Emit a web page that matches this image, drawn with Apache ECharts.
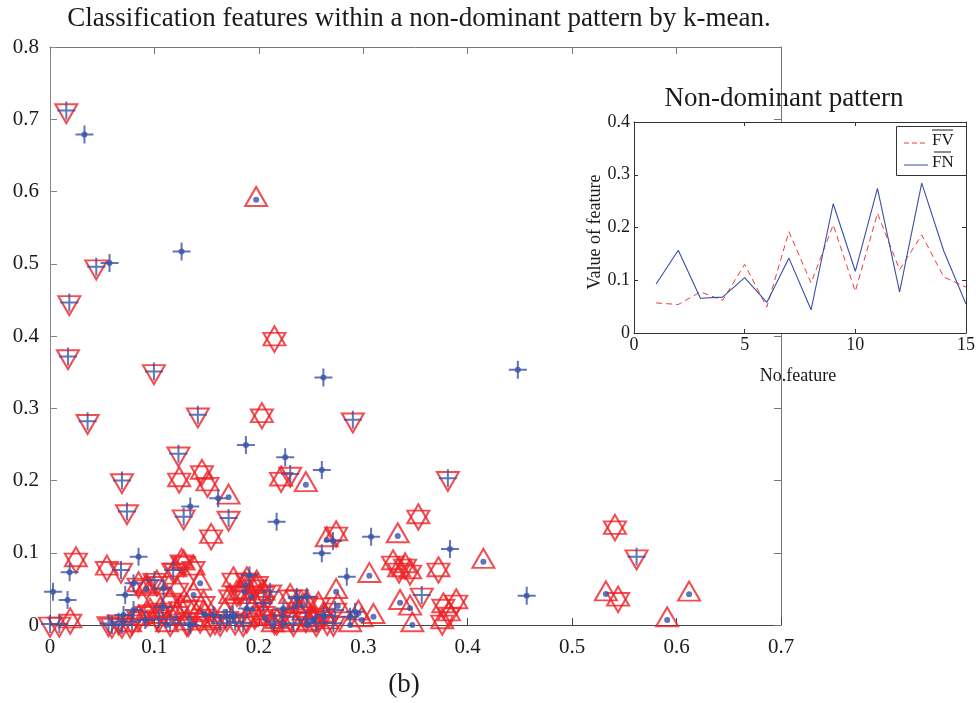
<!DOCTYPE html>
<html>
<head>
<meta charset="utf-8">
<script src="https://cdn.jsdelivr.net/npm/echarts@6/dist/echarts.min.js"></script>
<style>
html,body{margin:0;padding:0;background:#fff;}
#chart{width:978px;height:703px;}
</style>
</head>
<body>
<div id="chart"></div>
<script>
// ---------- DATA ----------
// Main scatter: combined marker groups [x, y]
// red down-triangle + blue plus
var vPlus = [
 [0.0156,0.712],[0.0443,0.496],[0.0185,0.4465],[0.0172,0.3716],[0.0995,0.351],
 [0.036,0.282],[0.1416,0.291],[0.290,0.284],[0.123,0.237],[0.0689,0.200],
 [0.230,0.209],[0.0737,0.157],[0.128,0.150],[0.171,0.148],[0.381,0.203],
 [0.5617,0.0946],[0.068,0.076],[0.118,0.076],[0.356,0.0416],[0.000,0.0014],
 [0.0089,0.0014],[0.056,0.002],[0.0657,0.0046],[0.0785,0.0046],[0.0593,0.000],
 [0.0689,0.000],[0.1151,0.0023],[0.1326,0.0023],[0.163,0.0023],[0.1694,0.0093],
 [0.1773,0.0046],[0.2044,0.030],[0.2108,0.046],[0.2363,0.039],[0.2331,0.0023],
 [0.2714,0.0023],[0.273,0.0208],[0.100,0.062],[0.215,0.005],[0.222,0.012],
 [0.245,0.008],[0.255,0.002],[0.262,0.014],[0.104,0.008],[0.185,0.002]
];
// red up+down triangles (hexagram)
var hexagram = [
 [0.2149,0.3957],[0.2029,0.2895],[0.1237,0.2008],[0.1455,0.211],[0.1508,0.195],
 [0.2213,0.2018],[0.3527,0.1496],[0.1543,0.1223],[0.274,0.126],[0.3285,0.0859],
 [0.3343,0.0762],[0.340,0.0817],[0.3448,0.0734],[0.372,0.0762],[0.541,0.1348],
 [0.544,0.0355],[0.3767,0.0263],[0.389,0.0319],[0.382,0.0152],[0.3756,0.0042],
 [0.0248,0.090],[0.0194,0.0055],[0.0545,0.0785],[0.126,0.0877],[0.1374,0.0785],
 [0.120,0.076],[0.0927,0.053],[0.1023,0.0577],[0.1215,0.0485],[0.1151,0.0346],
 [0.131,0.0254],[0.147,0.030],[0.0848,0.0554],[0.1757,0.0623],[0.1885,0.0623],
 [0.1965,0.053],[0.201,0.039],[0.182,0.044],[0.1725,0.039],[0.198,0.0577],
 [0.2044,0.0439],[0.179,0.0439],[0.230,0.039],[0.2459,0.030],[0.257,0.0277],
 [0.0927,0.0162],[0.1023,0.0115],[0.1215,0.0162],[0.1438,0.0069],[0.1885,0.0069],
 [0.2044,0.0162],[0.2172,0.0046],[0.230,0.0093],[0.2427,0.0162],[0.0768,0.000],
 [0.0848,0.0093],[0.096,0.0185],[0.1056,0.0208],[0.1247,0.023],[0.131,0.0023],
 [0.1534,0.0023],[0.128,0.0855],[0.158,0.005],[0.196,0.012],[0.2655,0.004]
];
// red up-triangle + blue dot
var triDot = [
 [0.1974,0.5886],[0.245,0.194],[0.171,0.1767],[0.265,0.1177],[0.3058,0.0683],
 [0.333,0.1233],[0.415,0.0877],[0.5323,0.0429],[0.612,0.0425],[0.591,0.0069],
 [0.3352,0.0309],[0.3448,0.0231],[0.347,0.000],[0.274,0.0461],[0.2756,0.0263],
 [0.1438,0.0577],[0.1374,0.0416],[0.0922,0.050],[0.112,0.000],[0.147,0.0162],
 [0.206,0.0093],[0.2134,0.000],[0.2235,0.000],[0.2347,0.0254],[0.2475,0.0023],
 [0.2522,0.0069],[0.2618,0.0138],[0.2874,0.000],[0.2954,0.0162],[0.2985,0.0069],
 [0.3097,0.0115],[0.187,0.0554],[0.186,0.046],[0.1926,0.039],[0.242,0.0263],
 [0.253,0.0079],[0.2465,0.000],[0.1199,0.0093],[0.1486,0.0138],[0.1678,0.0185],
 [0.1933,0.0208],[0.2626,0.0115]
];
// blue plus + blue dot
var plusDot = [
 [0.033,0.679],[0.126,0.517],[0.057,0.501],[0.2618,0.3425],[0.1876,0.249],
 [0.2252,0.2323],[0.2603,0.2147],[0.448,0.3532],[0.161,0.1755],[0.1343,0.1639],
 [0.217,0.143],[0.2603,0.0993],[0.271,0.1163],[0.3075,0.1223],[0.383,0.1053],
 [0.4565,0.0406],[0.2842,0.0669],[0.0188,0.073],[0.0029,0.0461],[0.0168,0.0346],
 [0.0848,0.0946],[0.080,0.0578],[0.072,0.0416],[0.191,0.069],[0.1087,0.0508],
 [0.0704,0.0138],[0.080,0.0208],[0.0912,0.0069],[0.108,0.0245],[0.1343,0.000],
 [0.1566,0.0138],[0.1725,0.0115],[0.1885,0.023],[0.2235,0.023],[0.2363,0.037],
 [0.2874,0.0115],[0.2922,0.0185],[0.2459,0.039],[0.1752,0.0138]
];
// Inset: feature values
var featureNo = [1,2,3,4,5,6,7,8,9,10,11,12,13,14,15];
var fvValues = [0.057,0.054,0.078,0.062,0.130,0.049,0.192,0.095,0.205,0.079,0.227,0.120,0.186,0.106,0.087];
var fnValues = [0.093,0.157,0.066,0.068,0.105,0.058,0.142,0.044,0.245,0.117,0.274,0.078,0.284,0.155,0.055];
var mainXTicks = [0,0.1,0.2,0.3,0.4,0.5,0.6,0.7];
var mainYTicks = [0,0.1,0.2,0.3,0.4,0.5,0.6,0.7,0.8];

// ---------- STYLE ----------
var RED = '#ec2227', BLUE = '#3a52a5';
var SERIF = '"Liberation Serif","Times New Roman",serif';
var upTri = 'path://M10,0L20,17.32L0,17.32Z';
var downTri = 'path://M0,0L20,0L10,17.32Z';
var plusSym = 'path://M0,9L18,9M9,0L9,18';

function pairs(xs, ys){ return xs.map(function(x,i){return [x, ys[i]];}); }

function axisCommon(color, len){
  return {
    axisLine:{show:true, onZero:false, lineStyle:{color:color, width:1}},
    axisTick:{show:true, inside:true, length:len, lineStyle:{color:color, width:1}},
    splitLine:{show:false}
  };
}
function mk(base, extra){ var o = {}; for (var k in base) o[k]=base[k]; for (var k2 in extra) o[k2]=extra[k2]; return o; }

var mainLabel = {fontFamily:SERIF, fontSize:21, color:'#1a1a1a'};
var insetLabel = {fontFamily:SERIF, fontSize:18, color:'#1a1a1a'};

var chart = echarts.init(document.getElementById('chart'), null, {renderer:'canvas'});
chart.setOption({
  animation:false,
  backgroundColor:'#fff',
  grid:[
    {left:50, top:47, width:731, height:578, show:false},
    {left:634, top:122, width:333, height:211, show:true, backgroundColor:'#fff', borderWidth:0, z:5}
  ],
  xAxis:[
    mk(axisCommon('#444',7), {gridIndex:0, type:'value', position:'bottom', min:0, max:0.7, interval:0.1,
      axisLabel:mk(mainLabel,{margin:12, formatter:function(v){return String(+v.toFixed(1));}})}),
    mk(axisCommon('#777',7), {gridIndex:0, type:'value', position:'top', min:0, max:0.7, interval:0.1, axisLabel:{show:false}}),
    mk(axisCommon('#333',4), {gridIndex:1, type:'value', position:'bottom', min:0, max:15, interval:5, z:6,
      axisLabel:mk(insetLabel,{margin:3})}),
    mk(axisCommon('#333',4), {gridIndex:1, type:'value', position:'top', min:0, max:15, interval:5, z:6, axisLabel:{show:false}})
  ],
  yAxis:[
    mk(axisCommon('#888',7), {gridIndex:0, type:'value', position:'left', min:0, max:0.8, interval:0.1,
      axisLabel:mk(mainLabel,{margin:11, formatter:function(v){return String(+v.toFixed(1));}})}),
    mk(axisCommon('#777',7), {gridIndex:0, type:'value', position:'right', min:0, max:0.8, interval:0.1, axisLabel:{show:false}}),
    mk(axisCommon('#333',4), {gridIndex:1, type:'value', position:'left', min:0, max:0.4, interval:0.1, z:6,
      axisLabel:mk(insetLabel,{margin:4, formatter:function(v){return String(+v.toFixed(1));}})}),
    mk(axisCommon('#333',4), {gridIndex:1, type:'value', position:'right', min:0, max:0.4, interval:0.1, z:6, axisLabel:{show:false}})
  ],
  series:[
    {type:'scatter', xAxisIndex:0, yAxisIndex:0, clip:false, silent:true,
     data: hexagram.concat(triDot), symbol:upTri, symbolSize:[22,19], symbolOffset:[0,-3.2],
     itemStyle:{color:'rgba(0,0,0,0)', borderColor:RED, borderWidth:2}},
    {type:'scatter', xAxisIndex:0, yAxisIndex:0, clip:false, silent:true,
     data: vPlus.concat(hexagram), symbol:downTri, symbolSize:[22,19], symbolOffset:[0,3.2],
     itemStyle:{color:'rgba(0,0,0,0)', borderColor:RED, borderWidth:2}},
    {type:'scatter', xAxisIndex:0, yAxisIndex:0, clip:false, silent:true,
     data: vPlus.concat(plusDot), symbol:plusSym, symbolSize:18,
     itemStyle:{color:'rgba(0,0,0,0)', borderColor:BLUE, borderWidth:2}},
    {type:'scatter', xAxisIndex:0, yAxisIndex:0, clip:false, silent:true,
     data: triDot.concat(plusDot), symbol:'circle', symbolSize:6,
     itemStyle:{color:BLUE}},
    {type:'line', xAxisIndex:2, yAxisIndex:2, z:7, silent:true, symbol:'none',
     data: pairs(featureNo, fvValues), lineStyle:{color:'#f03a3a', width:1, type:[6,4]}},
    {type:'line', xAxisIndex:2, yAxisIndex:2, z:7, silent:true, symbol:'none',
     data: pairs(featureNo, fnValues), lineStyle:{color:'#3a4fa8', width:1.1}}
  ],
  graphic:[
    {type:'text', z:20, style:{x:419, y:19, text:'Classification features within a non-dominant pattern by k-mean.',
      font:'27px '+SERIF, fill:'#1a1a1a', textAlign:'center', textVerticalAlign:'middle'}},
    {type:'text', z:20, style:{x:404, y:685, text:'(b)', font:'27px '+SERIF, fill:'#1a1a1a', textAlign:'center', textVerticalAlign:'middle'}},
    {type:'text', z:20, style:{x:784, y:99, text:'Non-dominant pattern', font:'27px '+SERIF, fill:'#1a1a1a', textAlign:'center', textVerticalAlign:'middle'}},
    {type:'text', z:20, style:{x:798, y:376, text:'No.feature', font:'18px '+SERIF, fill:'#1a1a1a', textAlign:'center', textVerticalAlign:'middle'}},
    {type:'text', z:20, x:595, y:232, rotation:Math.PI/2, style:{x:0, y:0, text:'Value of feature', font:'18px '+SERIF, fill:'#1a1a1a', textAlign:'center', textVerticalAlign:'middle'}},
    // legend
    {type:'rect', z:20, shape:{x:896.5, y:126.5, width:70, height:49}, style:{fill:'#fff', stroke:'#333', lineWidth:1}},
    {type:'line', z:21, shape:{x1:904, y1:143, x2:928, y2:143}, style:{stroke:'#f03a3a', lineWidth:1, lineDash:[5,3]}},
    {type:'text', z:21, style:{x:932, y:141, text:'FV', font:'17px '+SERIF, fill:'#1a1a1a', textAlign:'left', textVerticalAlign:'middle'}},
    {type:'line', z:21, shape:{x1:932, y1:130, x2:953, y2:130}, style:{stroke:'#1a1a1a', lineWidth:1}},
    {type:'line', z:21, shape:{x1:904, y1:165, x2:928, y2:165}, style:{stroke:'#3a4fa8', lineWidth:1}},
    {type:'text', z:21, style:{x:932, y:163, text:'FN', font:'17px '+SERIF, fill:'#1a1a1a', textAlign:'left', textVerticalAlign:'middle'}},
    {type:'line', z:21, shape:{x1:934, y1:152, x2:951, y2:152}, style:{stroke:'#1a1a1a', lineWidth:1}}
  ]
});
</script>
</body>
</html>
